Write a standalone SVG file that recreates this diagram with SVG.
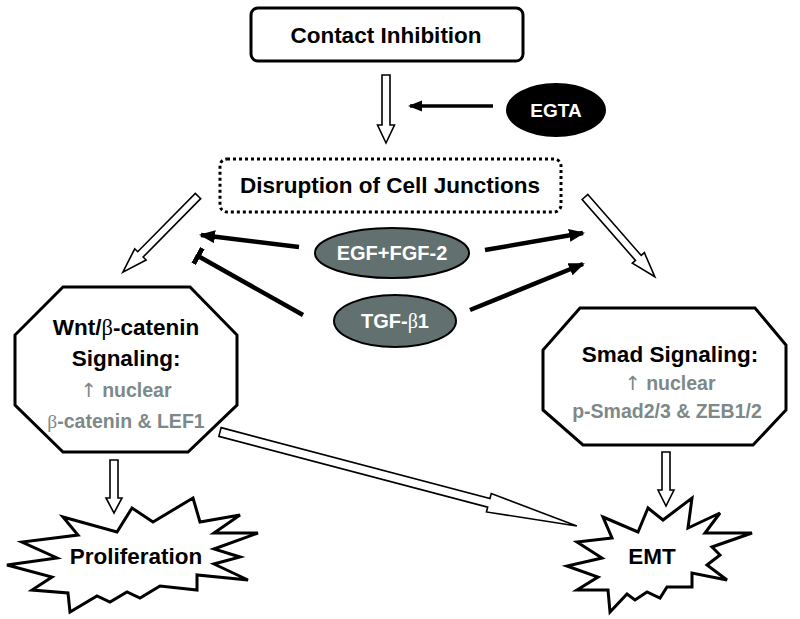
<svg xmlns="http://www.w3.org/2000/svg" width="800" height="619" viewBox="0 0 800 619">
<defs>
<style>
.t{font-family:"Liberation Sans",Arial,sans-serif;font-weight:bold;text-anchor:middle}
.b{font-size:22.5px;fill:#000}
.g{font-size:19.5px;fill:#7d8989}
.w{font-size:20px;fill:#fff}
.sym{font-family:"DejaVu Sans",sans-serif;font-weight:normal}
.gr{font-family:"Liberation Serif",serif;font-weight:normal}
.box{fill:#fff;stroke:#000;stroke-width:3}
.oa{fill:#fff;stroke:#000;stroke-width:1.6;stroke-linejoin:miter}
.ln{stroke:#000;stroke-width:4.5;fill:none}
.ell{fill:#627070;stroke:#000;stroke-width:2}
</style>
<marker id="ah" markerUnits="userSpaceOnUse" viewBox="0 0 16 14" markerWidth="16" markerHeight="14" refX="14" refY="7" orient="auto">
<path d="M0,0.5 L16,7 L0,13.5 Z" fill="#000"/>
</marker>
<marker id="ah2" markerUnits="userSpaceOnUse" viewBox="0 0 14 12" markerWidth="14" markerHeight="12" refX="12" refY="6" orient="auto">
<path d="M0,0.5 L14,6 L0,11.5 Z" fill="#000"/>
</marker>
<marker id="bar" markerUnits="userSpaceOnUse" viewBox="0 0 5 18" markerWidth="5" markerHeight="18" refX="2.5" refY="9" orient="auto">
<rect x="0" y="0" width="5" height="18" fill="#000"/>
</marker>
</defs>
<rect width="800" height="619" fill="#fff"/>

<g id="connectors">
<g transform="translate(386,75) rotate(90)"><polygon class="oa" points="0,-4 50,-4 50,-8.5 68,0 50,8.5 50,4 0,4"/></g>
<g transform="translate(198,196) rotate(134.6)"><polygon class="oa" points="0,-3.8 82,-3.8 82,-8 107,0 82,8 82,3.8 0,3.8"/></g>
<g transform="translate(585,197) rotate(48.8)"><polygon class="oa" points="0,-3.8 81,-3.8 81,-8 106,0 81,8 81,3.8 0,3.8"/></g>
<g transform="translate(220,432) rotate(14.75)"><polygon class="oa" points="0,-4.5 278,-4.5 278,-9.5 369,0 278,9.5 278,4.5 0,4.5"/></g>
<g transform="translate(114,460) rotate(90)"><polygon class="oa" points="0,-4 38,-4 38,-8 53,0 38,8 38,4 0,4"/></g>
<g transform="translate(666,452) rotate(90)"><polygon class="oa" points="0,-4 38,-4 38,-8 54,0 38,8 38,4 0,4"/></g>
<line class="ln" x1="493" y1="106" x2="410" y2="106" style="stroke-width:3.5" marker-end="url(#ah2)"/>
<line class="ln" x1="299" y1="247" x2="201" y2="235" marker-end="url(#ah)"/>
<line class="ln" x1="485" y1="250" x2="583" y2="233" marker-end="url(#ah)"/>
<line class="ln" x1="470" y1="310" x2="583" y2="264" marker-end="url(#ah)"/>
<line class="ln" x1="303" y1="315" x2="198" y2="256" marker-end="url(#bar)"/>
</g>

<g id="contact">
<rect class="box" x="251" y="8" width="272" height="53" rx="7"/>
<text class="t b" x="386" y="43">Contact Inhibition</text>
</g>

<g id="egta">
<ellipse cx="556" cy="110" rx="50" ry="27" fill="#000"/>
<text class="t w" x="556" y="117" style="font-size:19px">EGTA</text>
</g>

<g id="disruption">
<rect x="220" y="159" width="341" height="53" rx="7" fill="#fff" stroke="#000" stroke-width="3" stroke-dasharray="3 3"/>
<text class="t b" x="390" y="193">Disruption of Cell Junctions</text>
</g>

<g id="egf">
<ellipse class="ell" cx="392" cy="253" rx="77" ry="25"/>
<text class="t w" x="392" y="260">EGF+FGF-2</text>
</g>

<g id="tgf">
<ellipse class="ell" cx="395" cy="321" rx="61" ry="26"/>
<text class="t w" x="395" y="328">TGF-<tspan class="gr">β</tspan>1</text>
</g>

<g id="wnt">
<polygon class="box" points="63,287 190,287 237,335 237,405 188,452 63,452 15,405 15,335"/>
<text class="t b" x="126" y="335">Wnt/<tspan class="gr">β</tspan>-catenin</text>
<text class="t b" x="126" y="366">Signaling:</text>
<text class="t g" x="126" y="397"><tspan class="sym">↑</tspan> nuclear</text>
<text class="t g" x="126" y="428"><tspan class="gr">β</tspan>-catenin &amp; LEF1</text>
</g>

<g id="smad">
<polygon class="box" points="580,308 755,308 786,345 786,410 753,445 583,445 543,410 543,350"/>
<text class="t b" x="670" y="362">Smad Signaling:</text>
<text class="t g" x="670" y="390"><tspan class="sym">↑</tspan> nuclear</text>
<text class="t g" x="667" y="418">p-Smad2/3 &amp; ZEB1/2</text>
</g>

<g id="proliferation">
<polygon class="box" points="63,517 117,532 132,508 153,522 193,498 200,522 240,515 214,533 258,533 214,549 240,557 214,564 248,580 197,575 197,590 160,586 140,598 127,592 110,602 97,596 70,612 68,593 32,590 52,577 7,565 57,558 22,542 78,535"/>
<text class="t b" x="136" y="564">Proliferation</text>
</g>

<g id="emt">
<polygon class="box" points="603,517 638,532 648,508 663,520 692,498 688,528 720,513 705,533 752,533 712,547 720,555 707,565 727,580 692,573 692,587 667,587 660,598 647,592 635,600 627,594 610,612 608,590 577,590 598,577 567,566 602,558 577,542 612,538"/>
<text class="t b" x="652" y="564">EMT</text>
</g>
</svg>
